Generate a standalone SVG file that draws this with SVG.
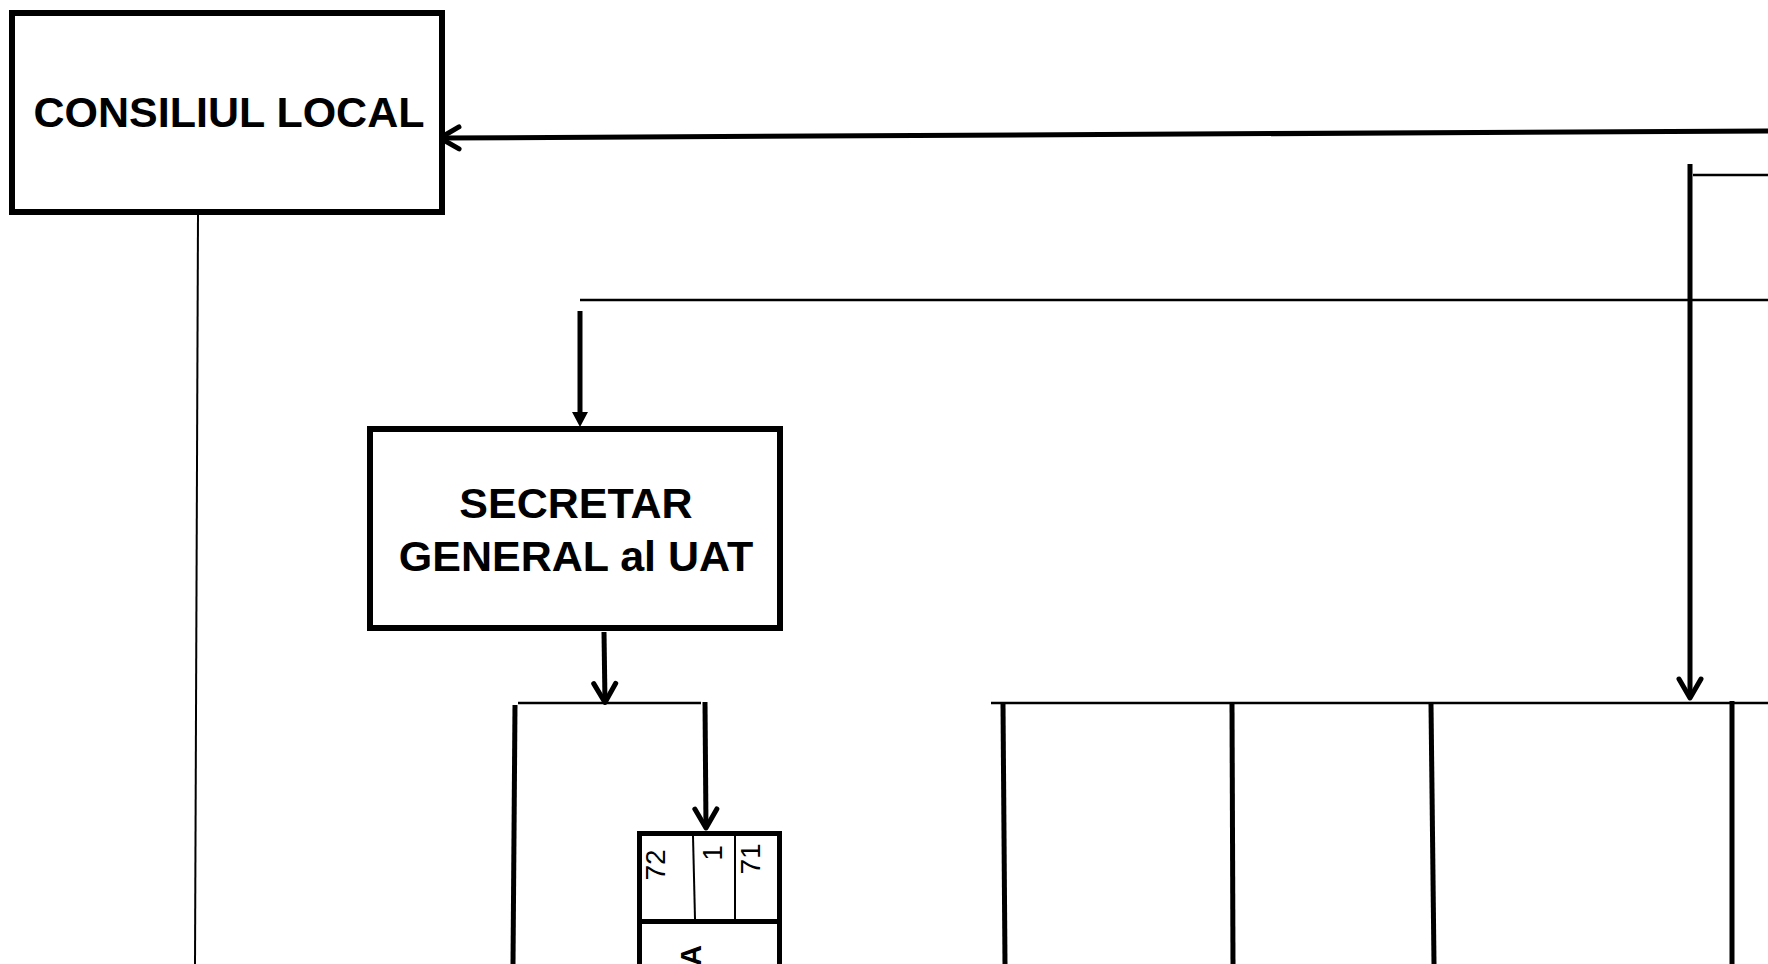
<svg xmlns="http://www.w3.org/2000/svg" width="1768" height="964" viewBox="0 0 1768 964">
<style>
.box{fill:#fff;stroke:#000;stroke-width:6}
.cell{fill:none;stroke:#000;stroke-width:5}
.title{font-family:"Liberation Sans",Arial,sans-serif;font-weight:bold;font-size:43px;fill:#000;text-anchor:middle}
.num{font-family:"Liberation Sans",Arial,sans-serif;font-size:28px;fill:#000;text-anchor:middle}
.lbl{font-family:"Liberation Sans",Arial,sans-serif;font-weight:bold;font-size:29px;fill:#000;text-anchor:end}
.thick{fill:none;stroke:#000;stroke-width:5}
.thin{fill:none;stroke:#000;stroke-width:2.6}
.hair{fill:none;stroke:#000;stroke-width:2}
.div{fill:none;stroke:#000;stroke-width:2}
</style>
<defs>
<marker id="vee" markerUnits="userSpaceOnUse" viewBox="-30 -15 40 30" markerWidth="40" markerHeight="30" refX="0" refY="0" orient="auto" overflow="visible">
<path d="M -19 -11 L 0 0 L -19 11" fill="none" stroke="#000" stroke-width="5" stroke-linejoin="round" stroke-linecap="round"/>
</marker>
<marker id="tri" markerUnits="userSpaceOnUse" viewBox="0 -10 20 20" markerWidth="20" markerHeight="20" refX="0" refY="0" orient="auto" overflow="visible">
<path d="M 0 -8 L 15 0 L 0 8 z" fill="#000"/>
</marker>
</defs>
<rect width="1768" height="964" fill="#fff"/>

<g id="connectors">
<line class="thick" x1="1768" y1="131" x2="440" y2="138" marker-end="url(#vee)"/>
<line class="hair" x1="198" y1="215" x2="195" y2="964"/>
<line class="thick" x1="1690" y1="164" x2="1690" y2="698" marker-end="url(#vee)"/>
<line class="thin" x1="1693" y1="175" x2="1768" y2="175"/>
<line class="thin" x1="580" y1="300" x2="1768" y2="300"/>
<line class="thick" x1="580" y1="311" x2="580" y2="412" marker-end="url(#tri)"/>
<line class="thick" x1="604" y1="632" x2="605" y2="702.5" marker-end="url(#vee)"/>
<line class="thin" x1="518" y1="703" x2="701" y2="703"/>
<line class="thick" x1="515" y1="705" x2="513" y2="964"/>
<line class="thick" x1="705" y1="702" x2="706" y2="828" marker-end="url(#vee)"/>
<line class="thin" x1="991" y1="703" x2="1768" y2="703"/>
<line class="thick" x1="1003" y1="704" x2="1005" y2="964"/>
<line class="thick" x1="1232" y1="704" x2="1233" y2="964"/>
<line class="thick" x1="1431" y1="704" x2="1434" y2="964"/>
<line class="thick" x1="1732" y1="701" x2="1732" y2="964"/>
</g>

<g id="consiliul-local">
<rect class="box" x="12" y="13" width="430" height="199"/>
<text class="title" x="229" y="127">CONSILIUL LOCAL</text>
</g>

<g id="secretar-general">
<rect class="box" x="370" y="429" width="410" height="199"/>
<text class="title" x="576" y="518">SECRETAR</text>
<text class="title" x="576" y="571">GENERAL al UAT</text>
</g>

<g id="compartiment">
<rect class="cell" x="639.5" y="833.5" width="140" height="140"/>
<line class="cell" x1="639.5" y1="921.5" x2="779.5" y2="921.5"/>
<line class="div" x1="693" y1="836" x2="695" y2="919"/>
<line class="div" x1="735" y1="836" x2="735" y2="919"/>
<text class="num" transform="translate(665 865) rotate(-90)">72</text>
<text class="num" transform="translate(722 853) rotate(-90)">1</text>
<text class="num" transform="translate(760 859) rotate(-90)">71</text>
<text class="lbl" transform="translate(701 945) rotate(-90)">A</text>
</g>
</svg>
